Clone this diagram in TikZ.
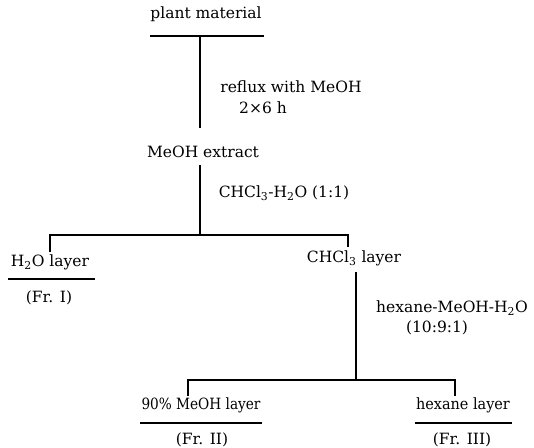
\documentclass[tikz,border=0pt]{standalone}
\usepackage{fontspec}
\setmainfont{DejaVu Serif}
\begin{document}
\begin{tikzpicture}[x=1pt,y=-1pt,
  lbl/.style={inner sep=0pt,font=\fontsize{15.5}{17}\selectfont},
  ln/.style={line width=1.3pt},
  ul/.style={line width=1.1pt}]
\useasboundingbox (0,0) rectangle (534,447);
% nodes
\node[lbl] (pm) at (206,14) {plant material};
\node[lbl] (c1) at (291,87) {reflux with MeOH};
\node[lbl] (c1b) at (263,108) {2×6 h};
\node[lbl] (ext) at (203,152) {MeOH extract};
\node[lbl] (c2) at (284,193) {CHCl\textsubscript{3}-H\textsubscript{2}O (1:1)};
\node[lbl] (h2o) at (50,262) {H\textsubscript{2}O layer};
\node[lbl] (fr1) at (49,298) {(Fr. I)};
\node[lbl] (chl) at (354,258) {CHCl\textsubscript{3} layer};
\node[lbl] (c3) at (452,308) {hexane-MeOH-H\textsubscript{2}O};
\node[lbl] (c3b) at (437,328) {(10:9:1)};
\node[lbl] (meo) at (201,405) {\scalebox{0.88}[1]{90\% MeOH layer}};
\node[lbl] (fr2) at (202,440) {(Fr. II)};
\node[lbl] (hex) at (463,405) {\scalebox{0.93}[1]{hexane layer}};
\node[lbl] (fr3) at (462,440) {(Fr. III)};
% underlines
\draw[ul] (150,36) -- (264,36);
\draw[ul] (8,279) -- (95,279);
\draw[ul] (140,423) -- (262,423);
\draw[ul] (415,423) -- (512,423);
% junction coordinates
\coordinate (t1) at (200,36);
\coordinate (e1) at (200,128);
\coordinate (t2) at (200,165);
\coordinate (j2) at (200,235);
\coordinate (l2) at (50,235);
\coordinate (r2) at (348,235);
\coordinate (t3) at (356,272);
\coordinate (j3) at (356,380);
\coordinate (l3) at (188,380);
\coordinate (r3) at (455,380);
% connectors
\draw[ln] (t1) -- (e1);
\draw[ln] (t2) -- (j2);
\draw[ln] (l2) ++(0,17) -- (l2) -- (r2) -- ++(0,12);
\draw[ln] (t3) -- (j3);
\draw[ln] (l3) ++(0,16) -- (l3) -- (r3) -- ++(0,16);
\end{tikzpicture}
\end{document}
